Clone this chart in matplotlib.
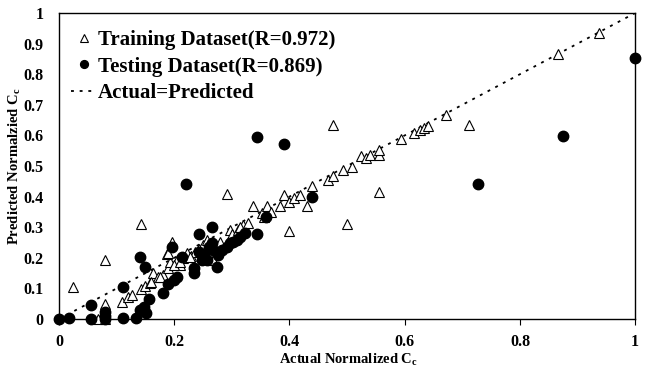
"""Predicted vs actual normalized Cc for training and testing sets."""
import matplotlib
matplotlib.use("Agg")
import matplotlib.pyplot as plt
from matplotlib.ticker import FuncFormatter

plt.rcParams['font.family'] = ['Liberation Serif', 'DejaVu Serif']
plt.rcParams['font.weight'] = 'bold'
plt.rcParams['axes.labelweight'] = 'bold'
plt.rcParams['mathtext.fontset'] = 'custom'
plt.rcParams['mathtext.rm'] = 'Liberation Serif:bold'
plt.rcParams['mathtext.bf'] = 'Liberation Serif:bold'
plt.rcParams['mathtext.it'] = 'Liberation Serif:bold'

# training set (triangles)
train_x = [0.024, 0.08, 0.08, 0.068, 0.08, 0.11, 0.119, 0.126, 0.142, 0.142,
           0.15, 0.158, 0.164, 0.172, 0.181, 0.189, 0.193, 0.188, 0.196, 0.204,
           0.21, 0.215, 0.222, 0.229, 0.236, 0.243, 0.25, 0.257, 0.268, 0.28,
           0.291, 0.297, 0.3, 0.311, 0.32, 0.328, 0.337, 0.352, 0.355, 0.361,
           0.368, 0.384, 0.391, 0.4, 0.399, 0.408, 0.418, 0.43, 0.439, 0.467,
           0.476, 0.476, 0.493, 0.509, 0.5, 0.524, 0.533, 0.54, 0.556, 0.556,
           0.556, 0.594, 0.616, 0.627, 0.634, 0.641, 0.672, 0.712, 0.866, 0.9375,
           0.16, 0.175, 0.2, 0.21, 0.227, 0.19, 0.315]
train_y = [0.105, 0.193, 0.05, 0.0, 0.0, 0.055, 0.072, 0.079, 0.31, 0.097,
           0.107, 0.117, 0.15, 0.138, 0.143, 0.166, 0.185, 0.212, 0.251, 0.193,
           0.176, 0.2, 0.215, 0.206, 0.219, 0.228, 0.242, 0.258, 0.193, 0.252,
           0.41, 0.29, 0.278, 0.29, 0.307, 0.314, 0.369, 0.346, 0.333, 0.369,
           0.35, 0.369, 0.405, 0.287, 0.382, 0.395, 0.405, 0.369, 0.435, 0.454,
           0.467, 0.634, 0.487, 0.497, 0.31, 0.533, 0.526, 0.536, 0.536, 0.552,
           0.414, 0.588, 0.607, 0.618, 0.624, 0.631, 0.667, 0.634, 0.866, 0.935,
           0.12, 0.137, 0.176, 0.186, 0.203, 0.215, 0.30]

# testing set (filled circles)
test_x = [0.0, 0.017, 0.055, 0.055, 0.08, 0.08, 0.08, 0.111, 0.111, 0.134,
          0.141, 0.149, 0.141, 0.148, 0.151, 0.157, 0.181, 0.19, 0.199, 0.204,
          0.197, 0.213, 0.22, 0.235, 0.235, 0.243, 0.243, 0.248, 0.257, 0.265,
          0.265, 0.268, 0.274, 0.276, 0.283, 0.291, 0.297, 0.302, 0.309, 0.314,
          0.323, 0.344, 0.359, 0.439, 0.26, 0.252, 0.344, 0.39, 0.727, 0.875,
          1.0]
test_y = [0.0, 0.003, 0.046, 0.0, 0.022, 0.01, 0.0, 0.105, 0.003, 0.003,
          0.202, 0.17, 0.03, 0.04, 0.02, 0.065, 0.084, 0.114, 0.127, 0.138,
          0.236, 0.203, 0.44, 0.167, 0.15, 0.278, 0.219, 0.193, 0.193, 0.30,
          0.248, 0.225, 0.17, 0.209, 0.225, 0.236, 0.248, 0.252, 0.258, 0.268,
          0.28, 0.278, 0.333, 0.4, 0.235, 0.209, 0.595, 0.572, 0.441, 0.598,
          0.853]

fig = plt.figure(figsize=(6.46, 3.71), dpi=100)
ax = fig.add_axes([0.0913, 0.140, 0.892, 0.825])

ax.plot(train_x, train_y, linestyle='none', marker='^', ms=7.5, mfc='white',
        mec='black', mew=0.8, clip_on=False, zorder=3,
        label='Training Dataset(R=0.972)')
ax.plot(test_x, test_y, linestyle='none', marker='o', ms=7.5, mfc='black',
        mec='black', clip_on=False, zorder=4,
        label='Testing Dataset(R=0.869)')
ax.plot([0, 1], [0, 1], color='black', lw=1.3, linestyle=(0, (1.6, 3.2)),
        zorder=2, label='Actual=Predicted')

ax.set_xlim(0, 1)
ax.set_ylim(0, 1)
ax.set_xticks([0, 0.2, 0.4, 0.6, 0.8, 1.0])
ax.set_yticks([i / 10 for i in range(11)])
fmt = FuncFormatter(lambda v, p: '%g' % round(v, 2))
ax.xaxis.set_major_formatter(fmt)
ax.yaxis.set_major_formatter(fmt)
ax.tick_params(axis='x', direction='out', length=4, pad=7, labelsize=11.5)
ax.tick_params(axis='y', direction='out', length=0, pad=11, labelsize=11.5)
for lab in ax.get_xticklabels() + ax.get_yticklabels():
    lab.set_fontweight('bold')
for s in ax.spines.values():
    s.set_linewidth(1.0)
    s.set_color('black')

ax.set_xlabel(r'Actual Normalized C$_\mathbf{c}$', fontsize=10.5,
              fontweight='bold')
ax.set_ylabel(r'Predicted Normalzied C$_\mathbf{c}$', fontsize=10.5,
              fontweight='bold')
ax.xaxis.set_label_coords(0.502, -0.108)
ax.yaxis.set_label_coords(-0.062, 0.5)

ax.legend(loc='upper left', bbox_to_anchor=(0.0, 0.985), frameon=False,
          prop={'family': 'Liberation Serif', 'size': 15, 'weight': 'bold'},
          handlelength=1.2, handletextpad=0.05, labelspacing=0.32,
          borderaxespad=0.2, markerscale=0.75)

fig.savefig('out.png', dpi=100)
